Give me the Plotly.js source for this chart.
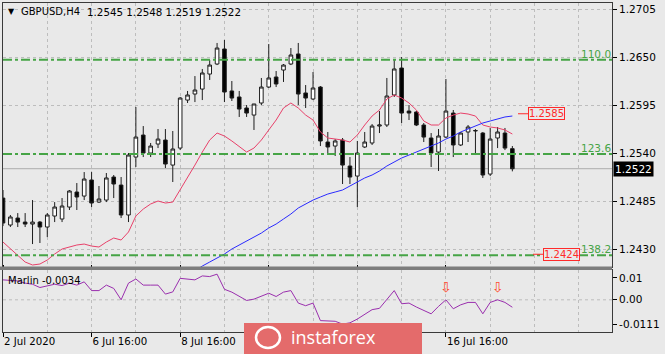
<!DOCTYPE html>
<html><head><meta charset="utf-8">
<script src="https://cdn.plot.ly/plotly-3.0.1.min.js"></script>
<style>html,body{margin:0;padding:0;background:#fff;}#chart{width:665px;height:354px;}</style>
</head><body><div id="chart"></div>
<script>
// ---------------- DATA ----------------
const symbolName = "GBPUSD,H4";
const barTimes = [
 "2 Jul 16:00","2 Jul 20:00",
 "3 Jul 00:00","3 Jul 04:00","3 Jul 08:00","3 Jul 12:00","3 Jul 16:00","3 Jul 20:00",
 "6 Jul 00:00","6 Jul 04:00","6 Jul 08:00","6 Jul 12:00","6 Jul 16:00","6 Jul 20:00",
 "7 Jul 00:00","7 Jul 04:00","7 Jul 08:00","7 Jul 12:00","7 Jul 16:00","7 Jul 20:00",
 "8 Jul 00:00","8 Jul 04:00","8 Jul 08:00","8 Jul 12:00","8 Jul 16:00","8 Jul 20:00",
 "9 Jul 00:00","9 Jul 04:00","9 Jul 08:00","9 Jul 12:00","9 Jul 16:00","9 Jul 20:00",
 "10 Jul 00:00","10 Jul 04:00","10 Jul 08:00","10 Jul 12:00","10 Jul 16:00","10 Jul 20:00",
 "13 Jul 00:00","13 Jul 04:00","13 Jul 08:00","13 Jul 12:00","13 Jul 16:00","13 Jul 20:00",
 "14 Jul 00:00","14 Jul 04:00","14 Jul 08:00","14 Jul 12:00","14 Jul 16:00","14 Jul 20:00",
 "15 Jul 00:00","15 Jul 04:00","15 Jul 08:00","15 Jul 12:00","15 Jul 16:00","15 Jul 20:00",
 "16 Jul 00:00","16 Jul 04:00","16 Jul 08:00","16 Jul 12:00","16 Jul 16:00","16 Jul 20:00",
 "17 Jul 00:00","17 Jul 04:00","17 Jul 08:00","17 Jul 12:00","17 Jul 16:00","17 Jul 20:00",
 "20 Jul 00:00","20 Jul 04:00"
];
const openP = [
 1.24884,1.24575,1.24655,1.24609,1.24586,1.24609,1.24552,1.24678,1.24644,1.24781,
 1.24953,1.24907,1.25091,1.24838,1.24861,1.25125,1.25033,1.24690,1.25354,1.25606,
 1.25400,1.25503,1.25549,1.25262,1.25457,1.26007,1.26076,1.26133,1.26305,1.26420,
 1.26592,1.26111,1.26042,1.25916,1.25835,1.25973,1.26156,1.26271,1.26351,1.26420,
 1.26535,1.26088,1.26019,1.26156,1.25526,1.25480,1.25549,1.25251,1.25136,1.25469,
 1.25515,1.25709,1.25721,1.26065,1.26374,1.25881,1.25870,1.25721,1.25572,1.25411,
 1.25583,1.25858,1.25492,1.25641,1.25652,1.25629,1.25159,1.25572,1.25629,1.2545];
const highP = [
 1.24976,1.24690,1.24712,1.24712,1.24861,1.24621,1.24712,1.24838,1.24884,1.24976,
 1.25056,1.25182,1.25182,1.25022,1.25171,1.25148,1.25125,1.25400,1.25927,1.25709,
 1.25515,1.25675,1.25675,1.25652,1.26042,1.26111,1.26282,1.26363,1.26466,1.26661,
 1.26695,1.26225,1.26111,1.25950,1.25962,1.26260,1.26649,1.26340,1.26420,1.26603,
 1.26661,1.26179,1.26328,1.26168,1.25641,1.25560,1.25572,1.25354,1.25538,1.25641,
 1.25732,1.25881,1.26260,1.26466,1.26500,1.25950,1.25881,1.25744,1.25629,1.25675,
 1.26248,1.25893,1.25641,1.25721,1.25675,1.25641,1.25687,1.25698,1.25687,1.2548];
const lowP = [
 1.24563,1.24552,1.24552,1.24552,1.24357,1.24369,1.24437,1.24609,1.24609,1.24747,
 1.24747,1.24861,1.24781,1.24827,1.24838,1.24884,1.24655,1.24609,1.25240,1.25354,
 1.25354,1.25457,1.25228,1.25068,1.25434,1.25973,1.25984,1.26007,1.26237,1.26408,
 1.25984,1.25996,1.25813,1.25813,1.25664,1.25950,1.26145,1.26156,1.26214,1.26408,
 1.25950,1.25916,1.26007,1.25480,1.25400,1.25366,1.25045,1.25045,1.24781,1.25457,
 1.25492,1.25629,1.25698,1.26042,1.25744,1.25778,1.25709,1.25526,1.25240,1.25194,
 1.25572,1.25354,1.25480,1.25526,1.25377,1.25114,1.25136,1.25457,1.25434,1.2519];
const closeP = [
 1.24598,1.24667,1.24609,1.24586,1.24609,1.24552,1.24690,1.24781,1.24793,1.24965,
 1.24896,1.25102,1.24827,1.24873,1.25114,1.25045,1.24690,1.25377,1.25583,1.25400,
 1.25480,1.25560,1.25274,1.25446,1.26030,1.26065,1.26122,1.26317,1.26408,1.26603,
 1.26099,1.26030,1.25904,1.25858,1.25962,1.26156,1.26260,1.26191,1.26408,1.26523,
 1.26076,1.26030,1.26145,1.25538,1.25469,1.25538,1.25262,1.25125,1.25400,1.25526,
 1.25709,1.25721,1.26053,1.26363,1.25858,1.25858,1.25721,1.25583,1.25400,1.25595,
 1.25881,1.25492,1.25629,1.25698,1.25658,1.25148,1.25560,1.25641,1.25457,1.2522];
const fastMA = [
 1.24380,1.24300,1.24220,1.24151,1.24117,1.24128,1.24174,1.24243,1.24300,1.24323,
 1.24346,1.24357,1.24334,1.24323,1.24380,1.24426,1.24403,1.24495,1.24678,1.24758,
 1.24816,1.24850,1.24827,1.24838,1.24976,1.25114,1.25262,1.25411,1.25549,1.25629,
 1.25595,1.25538,1.25469,1.25411,1.25457,1.25549,1.25664,1.25778,1.25916,1.25973,
 1.25916,1.25835,1.25778,1.25641,1.25572,1.25560,1.25549,1.25526,1.25606,1.25721,
 1.25824,1.25893,1.26019,1.26065,1.26030,1.25973,1.25893,1.25767,1.25721,1.25721,
 1.25801,1.25835,1.25858,1.25847,1.25824,1.25721,1.25698,1.25687,1.25664,1.25618];
const slowMA = [
 null,null,null,null,null,null,null,null,null,null,
 null,null,null,null,null,null,null,null,null,null,
 null,null,null,null,null,null,
 1.24048,1.24105,1.24151,1.24197,1.24243,1.24300,1.24346,1.24392,1.24437,1.24483,
 1.24541,1.24586,1.24644,1.24701,1.24770,1.24816,1.24861,1.24896,1.24930,1.24953,
 1.24976,1.25022,1.25068,1.25114,1.25148,1.25194,1.25251,1.25297,1.25343,1.25377,
 1.25411,1.25446,1.25480,1.25515,1.25560,1.25595,1.25641,1.25675,1.25709,1.25744,
 1.25767,1.25790,1.25813,1.25824];
const marlin = [
 0.0091,0.0088,0.0086,0.0076,0.0071,0.0056,0.0065,0.0071,0.0065,0.0076,
 0.0067,0.0082,0.0042,0.0042,0.0067,0.0052,0.0000,0.0076,0.0095,0.0067,
 0.0067,0.0067,0.0026,0.0036,0.0098,0.0095,0.0091,0.0109,0.0106,0.0117,
 0.0048,0.0035,0.0015,-0.0003,0.0003,0.0018,0.0030,0.0015,0.0035,0.0042,
 -0.0015,-0.0027,-0.0015,-0.0095,-0.0098,-0.0098,-0.0111,-0.0105,-0.0088,-0.0065,
 -0.0045,-0.0039,0.0003,0.0042,-0.0018,-0.0015,-0.0033,-0.0048,-0.0064,-0.0030,
 0.0000,-0.0041,-0.0023,-0.0012,-0.0012,-0.0064,-0.0012,0.0000,-0.0012,-0.0034];
const marlinLast = "-0.0034";
const signalTimes = ["16 Jul 16:00","17 Jul 20:00"];
const signalLevel = [0.0051,0.0051];
const fibLevels = [1.2647, 1.2539, 1.2423];
const fibLabels = ["110.0","123.6","138.2"];
const priceLabels = [1.2585, 1.2424];
const priceTicks = [1.2705,1.2650,1.2595,1.2540,1.2485,1.2430];
const oscTicks = [0.01, 0.00, -0.0111];
const oscTickText = ["0.01","0.00","-0.0111"];
// labelled time ticks (the two under the watermark are hidden in the picture)
const timeTickBars = ["2 Jul 16:00","6 Jul 16:00","8 Jul 16:00","10 Jul 16:00","14 Jul 16:00","16 Jul 16:00"];
const timeTickLabels = ["2 Jul 2020","6 Jul 16:00","8 Jul 16:00","","","16 Jul 16:00"];
const watermarkText = "instaforex";

// ---------------- BUILD ----------------
const xIdx = barTimes.map((_, i) => i);
const idxOf = t => barTimes.indexOf(t);
const n = barTimes.length;
const lastO = openP[n-1], lastH = highP[n-1], lastL = lowP[n-1], lastC = closeP[n-1];
const f4 = v => v.toFixed(4);

// pixel helpers for layout placement (plot area: x 3..612, y 3..332)
const PX = p => (p - 3) / 609;
const PY = p => (332 - p) / 329;

const BG = '#e9e9e9';
const GRID = '#bdbdbd';
const GREEN = '#46a446';
const FONT = 'DejaVu Sans';

const traces = [
  {type:'candlestick', x:xIdx, open:openP, high:highP, low:lowP, close:closeP,
   xaxis:'x', yaxis:'y', whiskerwidth:0, hoverinfo:'skip',
   increasing:{line:{color:'#1e1e1e', width:1}, fillcolor:'#ffffff'},
   decreasing:{line:{color:'#1e1e1e', width:1}, fillcolor:'#000000'}},
  {type:'scatter', mode:'lines', x:xIdx, y:fastMA, xaxis:'x', yaxis:'y',
   line:{color:'#e8416a', width:1}, hoverinfo:'skip'},
  {type:'scatter', mode:'lines', x:xIdx, y:slowMA, xaxis:'x', yaxis:'y',
   line:{color:'#2a2aff', width:1}, hoverinfo:'skip'},
  {type:'scatter', mode:'lines', x:xIdx, y:marlin, xaxis:'x', yaxis:'y2',
   line:{color:'#9a2fae', width:1}, hoverinfo:'skip'},
  {type:'scatter', mode:'text', x:signalTimes.map(idxOf), y:signalLevel, xaxis:'x', yaxis:'y2',
   text:signalTimes.map(() => '\u21E9'), textfont:{family:FONT, size:14, color:'#ff4a2a'},
   hoverinfo:'skip', cliponaxis:false}
];

const shapes = [];
shapes.push({type:'rect', xref:'paper', yref:'paper', x0:PX(0), x1:PX(612), y0:PY(270), y1:PY(266.5),
  fillcolor:'#7d7d7d', line:{width:0}, layer:'above'});
fibLevels.forEach(v => shapes.push({type:'line', xref:'paper', yref:'y', x0:0, x1:1, y0:v, y1:v,
  line:{color:GREEN, width:2, dash:'9px,3px,3px,3px'}, layer:'above'}));
shapes.push({type:'line', xref:'paper', yref:'y', x0:0, x1:1, y0:lastC, y1:lastC,
  line:{color:'#ababab', width:1}, layer:'below'});
shapes.push({type:'line', xref:'paper', yref:'y2', x0:0, x1:1, y0:0, y1:0,
  line:{color:GRID, width:1, dash:'3px,3px'}, layer:'below'});
shapes.push({type:'line', xref:'paper', yref:'y', x0:PX(518), x1:PX(528), y0:priceLabels[0], y1:priceLabels[0],
  line:{color:'#ff2a2a', width:1}});
shapes.push({type:'line', xref:'paper', yref:'y', x0:PX(533), x1:PX(543), y0:priceLabels[1], y1:priceLabels[1],
  line:{color:'#ff2a2a', width:1}});
// watermark plate
shapes.push({type:'rect', xref:'paper', yref:'paper', x0:PX(244), x1:PX(422), y0:PY(354), y1:PY(323),
  fillcolor:'#e46b6b', line:{width:0}, layer:'above'});
// watermark emblem (simple white arc)
shapes.push({type:'circle', xref:'paper', yref:'paper', x0:PX(256), x1:PX(280), y0:PY(348), y1:PY(327),
  fillcolor:'rgba(0,0,0,0)', line:{color:'#ffffff', width:2.5}, layer:'above'});

const annotations = [];
annotations.push({xref:'paper', yref:'paper', x:PX(6), y:PY(11.5), xanchor:'left', yanchor:'middle',
  text:'\u25BC', showarrow:false, font:{family:FONT, size:8, color:'#000'}});
annotations.push({xref:'paper', yref:'paper', x:PX(19), y:PY(11.5), xanchor:'left', yanchor:'middle',
  text:symbolName, showarrow:false, font:{family:FONT, size:10, color:'#000'}});
annotations.push({xref:'paper', yref:'paper', x:PX(85), y:PY(11.5), xanchor:'left', yanchor:'middle',
  text:[lastO,lastH,lastL,lastC].map(f4).join(' '), showarrow:false, font:{family:FONT, size:10.3, color:'#000'}});
fibLevels.forEach((v,k) => annotations.push({xref:'paper', yref:'y', x:PX(612), y:v, xanchor:'right', yanchor:'bottom',
  text:fibLabels[k], showarrow:false, borderpad:0, yshift:-1, font:{family:FONT, size:10.5, color:GREEN}}));
annotations.push({xref:'paper', yref:'y', x:PX(613), y:lastC, xanchor:'left', yanchor:'middle',
  text:f4(lastC), showarrow:false, bgcolor:'#000', borderpad:1, font:{family:FONT, size:10.5, color:'#fff'}});
annotations.push({xref:'paper', yref:'y', x:PX(528), y:priceLabels[0], xanchor:'left', yanchor:'middle',
  text:f4(priceLabels[0]), showarrow:false, bgcolor:BG, bordercolor:'#ff2a2a', borderwidth:1, borderpad:0,
  font:{family:FONT, size:10, color:'#ff2a2a'}});
annotations.push({xref:'paper', yref:'y', x:PX(543), y:priceLabels[1], xanchor:'left', yanchor:'middle',
  text:f4(priceLabels[1]), showarrow:false, bgcolor:BG, bordercolor:'#ff2a2a', borderwidth:1, borderpad:0,
  font:{family:FONT, size:10, color:'#ff2a2a'}});
annotations.push({xref:'paper', yref:'paper', x:PX(6), y:PY(280), xanchor:'left', yanchor:'middle',
  text:'Marlin ' + marlinLast, showarrow:false, font:{family:FONT, size:10, color:'#000'}});
annotations.push({xref:'paper', yref:'paper', x:PX(333), y:PY(337), xanchor:'center', yanchor:'middle',
  text:watermarkText, showarrow:false, font:{family:'Open Sans', size:18, color:'#ffffff'}});

const layout = {
  width:665, height:354,
  margin:{l:3, r:53, t:3, b:22, pad:0},
  paper_bgcolor:BG, plot_bgcolor:BG,
  showlegend:false, hovermode:false,
  font:{family:FONT, size:10, color:'#000'},
  xaxis:{
    anchor:'y2', range:[0, 82.5], rangeslider:{visible:false},
    tickmode:'array', tickvals:timeTickBars.map(idxOf), ticktext:timeTickLabels,
    ticks:'outside', ticklen:4, tickcolor:'#000', ticklabelposition:'outside right',
    tickfont:{family:FONT, size:10.2, color:'#000'},
    showline:true, mirror:'all', linecolor:'#3a3a3a', linewidth:1,
    showgrid:true, gridcolor:GRID, griddash:'3px,3px', gridwidth:1,
    minor:{tickmode:'linear', tick0:0, dtick:6, showgrid:true, gridcolor:GRID, griddash:'3px,3px', ticks:''},
    zeroline:false, fixedrange:true
  },
  yaxis:{
    domain:[PY(267), 1], range:[1.24094, 1.27119], side:'right',
    tickmode:'array', tickvals:priceTicks, ticktext:priceTicks.map(f4),
    ticks:'outside', ticklen:4, tickcolor:'#000',
    tickfont:{family:FONT, size:10.5, color:'#000'},
    showline:true, mirror:true, linecolor:'#3a3a3a', linewidth:1,
    showgrid:true, gridcolor:GRID, griddash:'3px,3px', zeroline:false, fixedrange:true
  },
  yaxis2:{
    domain:[0, PY(270)], range:[-0.0147, 0.0136], side:'right', anchor:'x',
    tickmode:'array', tickvals:oscTicks, ticktext:oscTickText,
    ticks:'outside', ticklen:4, tickcolor:'#000',
    tickfont:{family:FONT, size:10.5, color:'#000'},
    showline:true, mirror:true, linecolor:'#3a3a3a', linewidth:1,
    showgrid:false, zeroline:false, fixedrange:true
  },
  shapes:shapes, annotations:annotations
};

Plotly.newPlot('chart', traces, layout, {staticPlot:true, displayModeBar:false});
</script>
</body></html>
